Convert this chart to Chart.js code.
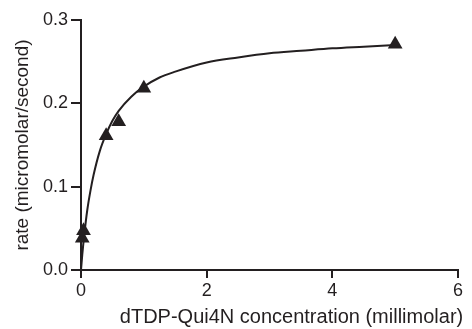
<!DOCTYPE html>
<html>
<head>
<meta charset="utf-8">
<script src="https://cdn.jsdelivr.net/npm/chart.js@4/dist/chart.umd.min.js"></script>
<style>
    body { margin: 0; background: #fff; }
</style>
</head>
<body>
<canvas id="chart" width="472" height="329"></canvas>
<script>
// measured rates (triangles)
let concentration = [0.02, 0.04, 0.4, 0.6, 1.0, 5.0];
let rate = [0.038, 0.047, 0.161, 0.178, 0.218, 0.271];

// fitted curve
let fitX = [0, 0.01, 0.02, 0.03, 0.05, 0.1, 0.15, 0.2, 0.3, 0.4, 0.5, 0.6, 0.8, 1.0, 1.25, 1.5, 2, 2.5, 3, 3.5, 4, 4.5, 5];
let fitY = [0, 0.009, 0.018, 0.026, 0.041, 0.072, 0.095, 0.114, 0.143, 0.163, 0.179, 0.191, 0.208, 0.220, 0.231, 0.238, 0.249, 0.255, 0.260, 0.263, 0.266, 0.268, 0.270];

let xTicks = [0, 2, 4, 6];
let yTicks = [0, 0.1, 0.2, 0.3];

let xTitle = 'dTDP-Qui4N concentration (millimolar)';
let yTitle = 'rate (micromolar/second)';

let ink = '#231f20';
let family = '"Liberation Sans", Arial, Helvetica, sans-serif';

let axis = (tickLength) => ({
    display: true,
    drawOnChartArea: false,
    drawTicks: true,
    tickLength: tickLength,
    color: ink,
    lineWidth: 2
});

// the x title sits a bit right of the axis centre in the original
let xTitlePlugin = {
    id: 'xTitle',
    afterDraw: chart => {
        let scale = chart.scales.x;
        let ctx = chart.ctx;
        ctx.save();
        ctx.fillStyle = ink;
        ctx.font = '20px ' + family;
        ctx.textAlign = 'center';
        ctx.textBaseline = 'alphabetic';
        ctx.fillText(xTitle, (scale.left + scale.right) / 2 + 22, scale.bottom - 6);
        ctx.restore();
    }
};

new Chart(document.getElementById('chart').getContext('2d'), {
    type: 'scatter',
    data: {
        datasets: [
            {
                label: 'measured',
                data: concentration.map((x, i) => ({x: x, y: rate[i]})),
                pointStyle: 'triangle',
                pointRadius: 8.5,
                backgroundColor: ink,
                borderColor: ink,
                borderWidth: 0,
                clip: false,
                order: 0
            },
            {
                label: 'fit',
                data: fitX.map((x, i) => ({x: x, y: fitY[i]})),
                showLine: true,
                cubicInterpolationMode: 'monotone',
                pointRadius: 0,
                borderColor: ink,
                borderWidth: 2,
                clip: false,
                order: 1
            }
        ]
    },
    plugins: [xTitlePlugin],
    options: {
        responsive: false,
        animation: false,
        layout: {
            padding: {left: 0, right: 14, top: 20, bottom: 0}
        },
        plugins: {
            legend: {display: false},
            tooltip: {enabled: false}
        },
        scales: {
            x: {
                type: 'linear',
                min: 0,
                max: 6,
                afterBuildTicks: scale => {
                    scale.ticks = xTicks.map(v => ({value: v}));
                },
                afterFit: scale => {
                    scale.height = 59;
                },
                grid: axis(8),
                border: {display: true, color: ink, width: 2},
                ticks: {
                    color: ink,
                    padding: 2,
                    maxRotation: 0,
                    font: {family: family, size: 18},
                    callback: value => String(value)
                }
            },
            y: {
                type: 'linear',
                min: 0,
                max: 0.3,
                afterBuildTicks: scale => {
                    scale.ticks = yTicks.map(v => ({value: v}));
                },
                afterFit: scale => {
                    scale.width = 81;
                },
                grid: axis(10),
                border: {display: true, color: ink, width: 2},
                ticks: {
                    color: ink,
                    padding: 3,
                    font: {family: family, size: 18},
                    callback: value => value.toFixed(1)
                },
                title: {
                    display: true,
                    text: yTitle,
                    color: ink,
                    padding: {top: 11, bottom: 0},
                    font: {family: family, size: 19}
                }
            }
        }
    }
});
</script>
</body>
</html>
